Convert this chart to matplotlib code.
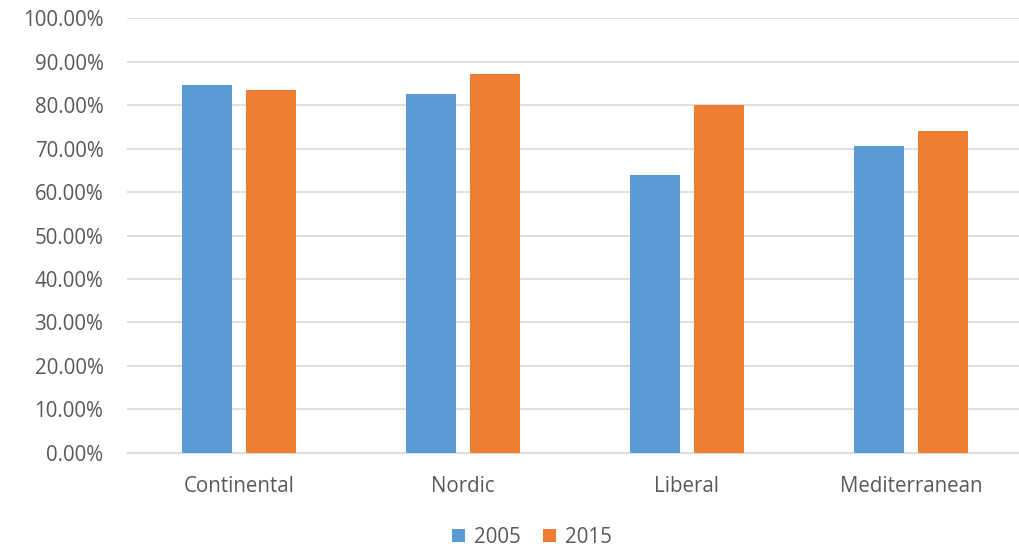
import numpy as np
import matplotlib.pyplot as plt
from matplotlib.ticker import FuncFormatter

# Share of population by welfare regime, 2005 vs 2015
regimes = ['Continental', 'Nordic', 'Liberal', 'Mediterranean']
years = ['2005', '2015']
share_2005 = [84.7, 82.6, 63.9, 70.5]
share_2015 = [83.6, 87.2, 80.0, 74.1]

blue = '#5B9BD5'
orange = '#ED7D31'
grid_col = '#D9D9D9'
text_col = '#595959'

plt.rcParams['font.family'] = ['Open Sans', 'DejaVu Sans']

fig = plt.figure(figsize=(10.19, 5.49), dpi=100)
ax = fig.add_axes([127 / 1019, 96.3 / 549, 896 / 1019, 434.4 / 549])

x = np.arange(len(regimes))
w = 0.223
off = 0.143
ax.bar(x - off, share_2005, w, color=blue, label=years[0], zorder=3)
ax.bar(x + off, share_2015, w, color=orange, label=years[1], zorder=3)

ax.set_xlim(-0.5, len(regimes) - 0.5)
ax.set_ylim(0, 100)
ax.set_yticks(np.arange(0, 101, 10))
ax.yaxis.set_major_formatter(FuncFormatter(lambda v, p: f'{v:.2f}%'))
ax.set_xticks(x)
ax.set_xticklabels(regimes)

ax.grid(axis='y', color=grid_col, linewidth=1.2, zorder=0)
for s in ['top', 'right', 'left']:
    ax.spines[s].set_visible(False)
ax.spines['bottom'].set_color(grid_col)
ax.spines['bottom'].set_linewidth(1.2)
ax.tick_params(axis='both', length=0, colors=text_col, labelsize=14.8)
ax.tick_params(axis='y', pad=17)
ax.tick_params(axis='x', pad=17)

fig.legend(loc='center', bbox_to_anchor=(0.522, 0.021), ncol=2, frameon=False,
           fontsize=14.8, labelcolor=text_col, handlelength=0.62, handleheight=0.62,
           handletextpad=0.45, columnspacing=1.1)

fig.savefig('out.png', dpi=100)
